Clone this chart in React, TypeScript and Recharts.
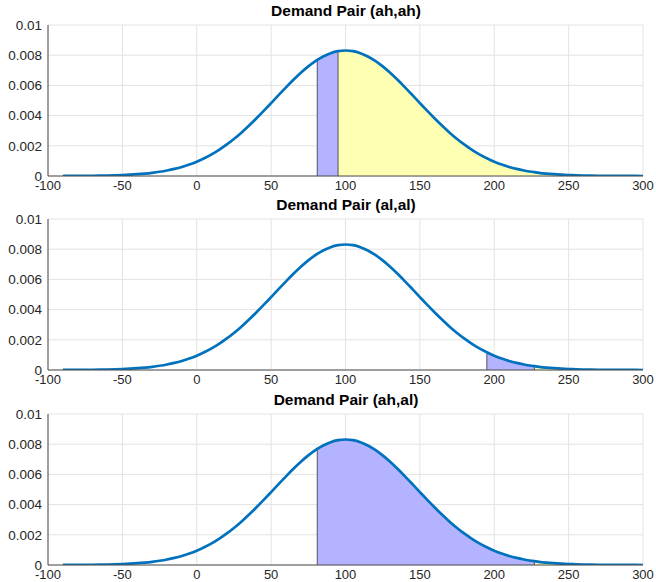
import React from 'react';
import {
  ComposedChart,
  Line,
  Area,
  XAxis,
  YAxis,
  CartesianGrid,
  ReferenceLine,
} from 'recharts';

// demand values (x) and the density
const demand = [
  -90, -85, -80, -75, -70, -65, -60, -55, -50, -45, -40, -35, -30, -25, -20, -15, -10, -5,
  0, 5, 10, 15, 20, 25, 30, 35, 40, 45, 50, 55, 60, 65, 70, 75, 80, 81, 85, 90, 95,
  100, 105, 110, 115, 120, 125, 130, 135, 140, 145, 150, 155, 160, 165, 170, 175, 180, 185,
  190, 195, 200, 205, 210, 215, 220, 225, 227, 230, 235, 240, 245, 250, 255, 260, 265, 270,
  275, 280, 285, 290, 295, 300,
];
const density = [
  0.0000033, 0.0000049, 0.0000073, 0.0000108, 0.0000157, 0.0000226, 0.000032, 0.0000452,
  0.000063, 0.0000868, 0.000118, 0.000159, 0.000212, 0.00028, 0.000365, 0.000471, 0.000601,
  0.00076, 0.000949, 0.001172, 0.001433, 0.001733, 0.002072, 0.002452, 0.00287, 0.003323,
  0.003805, 0.004311, 0.004831, 0.005356, 0.005873, 0.006371, 0.006836, 0.007257, 0.00762,
  0.007685, 0.007915, 0.008133, 0.008266, 0.008311, 0.008266, 0.008133, 0.007915, 0.00762,
  0.007257, 0.006836, 0.006371, 0.005873, 0.005356, 0.004831, 0.004311, 0.003805, 0.003323,
  0.00287, 0.002452, 0.002072, 0.001733, 0.001433, 0.001172, 0.000949, 0.00076, 0.000601,
  0.000471, 0.000365, 0.00028, 0.000251, 0.000212, 0.000159, 0.000118, 0.0000868, 0.000063,
  0.0000452, 0.000032, 0.0000226, 0.0000157, 0.0000108, 0.0000073, 0.0000049, 0.0000033,
  0.0000022, 0.0000014,
];

const xTicks = [-100, -50, 0, 50, 100, 150, 200, 250, 300];
const yTicks = [0, 0.002, 0.004, 0.006, 0.008, 0.01];

const titles = ['Demand Pair (ah,ah)', 'Demand Pair (al,al)', 'Demand Pair (ah,al)'];
// shaded ranges per panel: [start, end]
const blueRanges = [[81, 95], [195, 227], [81, 227]];
const yellowRanges = [[95, 260], [227, 260], [227, 260]];

const panelTop = [0, 194, 389];
const panelHeight = [195, 195, 193];

const FONT = '"Liberation Sans", Arial, Helvetica, sans-serif';
const BLUE_FILL = '#b3b3ff';
const YELLOW_FILL = '#ffffb3';
const LINE = '#0072bd';
const AXIS = '#4d4d4d';

function densityAt(x: number) {
  return density[demand.indexOf(x)];
}

function buildRows(i: number) {
  const [b0, b1] = blueRanges[i];
  const [y0, y1] = yellowRanges[i];
  return demand.map((x, k) => ({
    x,
    pdf: density[k],
    blue: x >= b0 && x <= b1 ? density[k] : null,
    yellow: x >= y0 && x <= y1 ? density[k] : null,
  }));
}

function Panel({ i }: { i: number }) {
  const rows = buildRows(i);
  const edges = [blueRanges[i][0], blueRanges[i][1], yellowRanges[i][1]];
  return (
    <div style={{ position: 'absolute', left: 0, top: panelTop[i], width: 656, height: panelHeight[i] }}>
      <div
        style={{
          position: 'absolute',
          left: 46,
          width: 600,
          top: 2,
          textAlign: 'center',
          fontFamily: FONT,
          fontWeight: 'bold',
          fontSize: 15.5,
          color: '#000',
        }}
      >
        {titles[i]}
      </div>
      <ComposedChart
        width={656}
        height={panelHeight[i]}
        data={rows}
        margin={{ top: 25, right: 13, left: 0, bottom: 0 }}
        style={{ overflow: 'visible' }}
      >
        <CartesianGrid stroke="#e3e3e3" horizontalValues={yTicks} verticalValues={xTicks} />
        <XAxis
          type="number"
          dataKey="x"
          domain={[-100, 300]}
          ticks={xTicks}
          interval={0}
          height={panelHeight[i] - 25 - 151}
          tickLine={false}
          tickSize={0}
          tickMargin={5}
          axisLine={{ stroke: AXIS }}
          tick={{ fill: '#262626', fontSize: 13, fontFamily: FONT }}
          allowDataOverflow
        />
        <YAxis
          type="number"
          domain={[0, 0.01]}
          ticks={yTicks}
          interval={0}
          width={48}
          tickLine={false}
          tickSize={0}
          tickMargin={6}
          axisLine={{ stroke: AXIS }}
          tick={{ fill: '#262626', fontSize: 13.5, fontFamily: FONT }}
          allowDataOverflow
        />
        <Area
          type="monotone"
          dataKey="yellow"
          fill={YELLOW_FILL}
          fillOpacity={1}
          stroke="#333"
          strokeWidth={0.8}
          isAnimationActive={false}
          connectNulls={false}
        />
        <Area
          type="monotone"
          dataKey="blue"
          fill={BLUE_FILL}
          fillOpacity={1}
          stroke="#333"
          strokeWidth={0.8}
          isAnimationActive={false}
          connectNulls={false}
        />
        {edges.map((e, k) => (
          <ReferenceLine
            key={k}
            segment={[{ x: e, y: 0 }, { x: e, y: densityAt(e) }]}
            stroke="#333"
            strokeWidth={0.8}
          />
        ))}
        <Line
          type="monotone"
          dataKey="pdf"
          stroke={LINE}
          strokeWidth={2.7}
          dot={false}
          isAnimationActive={false}
        />
      </ComposedChart>
    </div>
  );
}

export default function App() {
  return (
    <div style={{ position: 'absolute', left: 0, top: 0, width: 656, height: 582, background: '#fff', overflow: 'hidden' }}>
      {titles.map((_, i) => (
        <Panel key={i} i={i} />
      ))}
    </div>
  );
}
